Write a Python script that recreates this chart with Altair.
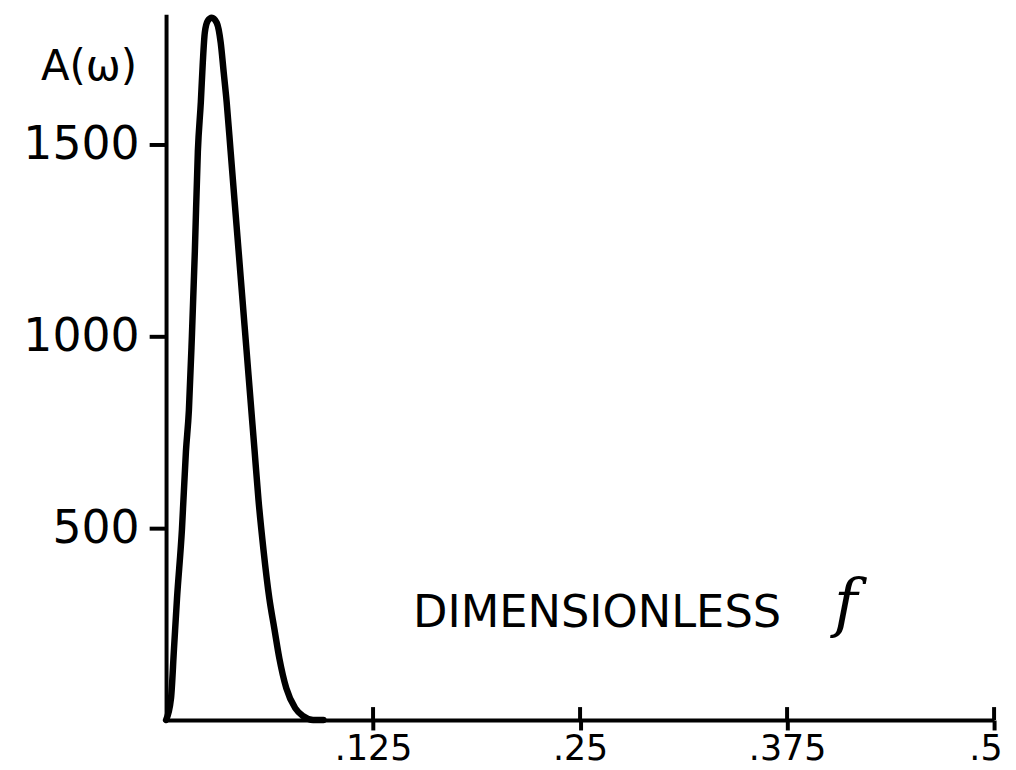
import altair as alt
import pandas as pd

# Curve
f_values = [0.0, 0.0030, 0.0048, 0.0066, 0.0096, 0.0120, 0.0138, 0.0156, 0.0174, 0.0192,
            0.0210, 0.0222, 0.0234, 0.0252, 0.0276, 0.0306, 0.0330, 0.0348, 0.0366, 0.0390,
            0.0414, 0.0438, 0.0462, 0.0486, 0.0510, 0.0534, 0.0558, 0.0588, 0.0624, 0.0654,
            0.0684, 0.0726, 0.0780, 0.0828, 0.0888, 0.0950]
a_values = [0, 57, 186, 316, 497, 700, 808, 1000, 1223, 1482,
            1611, 1715, 1792, 1823, 1831, 1818, 1766, 1689, 1611, 1482,
            1352, 1223, 1093, 964, 834, 705, 575, 445, 316, 238,
            161, 83, 31, 10, 0, 0]

x_ticks = [0.125, 0.25, 0.375, 0.5]
x_tick_labels = [".125", ".25", ".375", ".5"]
y_ticks = [500, 1000, 1500]

W, H = 833, 710
FONT = "DejaVu Sans"

df = pd.DataFrame({"f": f_values, "A": a_values})
ticks_df = pd.DataFrame({"f": x_ticks, "label": x_tick_labels})

label_expr = "datum.value == 0.125 ? '.125' : datum.value == 0.25 ? '.25' : datum.value == 0.375 ? '.375' : '.5'"

xscale = alt.Scale(domain=[0, 0.5], nice=False, zero=True)
yscale = alt.Scale(domain=[0, 1840], nice=False)

line = alt.Chart(df).mark_line(color="black", strokeWidth=6.5, interpolate="monotone",
                               strokeJoin="round", strokeCap="round").encode(
    x=alt.X("f:Q", scale=xscale,
            axis=alt.Axis(values=x_ticks, labelExpr=label_expr, grid=False,
                          domainColor="black", domainWidth=4,
                          tickColor="black", tickWidth=4, tickSize=10,
                          labelFont=FONT, labelFontSize=35, labelColor="black",
                          labelPadding=2, labelFlush=False, labelOverlap=False,
                          labelAlign={"condition": {"test": "datum.value == 0.5", "value": "right"},
                                      "value": "center"},
                          labelOffset={"condition": {"test": "datum.value == 0.5", "value": 8},
                                       "value": 0},
                          title="DIMENSIONLESS", titleFont=FONT, titleFontSize=45,
                          titleFontWeight="normal", titleColor="black",
                          titleAlign="left", titleBaseline="alphabetic",
                          titleX=248, titleY=-94)),
    y=alt.Y("A:Q", scale=yscale,
            axis=alt.Axis(values=y_ticks, grid=False, format="d",
                          domainColor="black", domainWidth=4,
                          tickColor="black", tickWidth=4, tickSize=17,
                          labelFont=FONT, labelFontSize=46, labelColor="black",
                          labelPadding=10,
                          title="A(ω)", titleFont=FONT, titleFontSize=42,
                          titleFontWeight="normal", titleColor="black",
                          titleAngle=0, titleAlign="center", titleBaseline="middle",
                          titleX=-78, titleY=53)),
)

upper_ticks = alt.Chart(ticks_df).mark_rule(color="black", strokeWidth=4).encode(
    x=alt.X("f:Q", scale=xscale),
    y=alt.value(H - 13),
    y2=alt.value(H),
)

f_text = alt.Chart(pd.DataFrame({"t": ["f"]})).mark_text(
    font="DejaVu Serif", fontStyle="italic", fontSize=64, color="black",
    align="left", baseline="alphabetic"
).encode(text="t:N", x=alt.value(672), y=alt.value(614))

chart = alt.layer(line, upper_ticks, f_text).properties(
    width=W, height=H,
    autosize=alt.AutoSizeParams(type="none"),
    padding={"left": 159, "top": 4, "right": 14, "bottom": 48},
    background="white",
).configure_view(stroke=None)

chart.save("out.html", embed_options={"renderer": "svg", "actions": False})
